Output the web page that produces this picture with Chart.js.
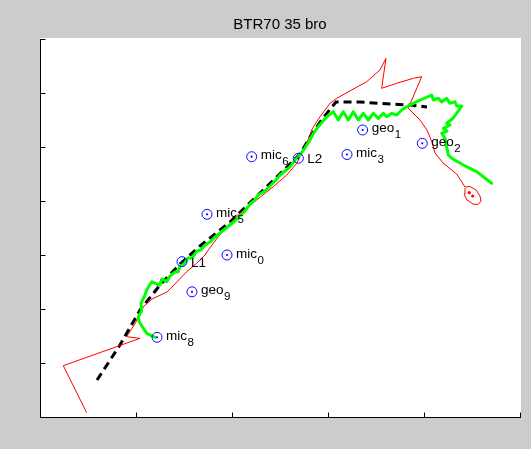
<!DOCTYPE html>
<html>
<head>
<meta charset="utf-8">
<script src="https://cdn.jsdelivr.net/npm/chart.js@4"></script>
<style>
html,body{margin:0;padding:0;background:#cccccc;}
canvas{display:block;}
</style>
</head>
<body>
<canvas id="c" width="531" height="449"></canvas>
<script>
// ---- data (axis units: x 0..5, y 0..7, no tick labels shown) ----
const titleText = 'BTR70 35 bro';
const xTickValues = [0, 1, 2, 3, 4, 5];
const yTickValues = [0, 1, 2, 3, 4, 5, 6, 7];

// sensor markers
const markerName = ['mic', 'geo', 'L1', 'mic', 'mic', 'mic', 'L2', 'mic', 'geo', 'geo'];
const markerSub  = ['8',   '9',   '',   '0',   '5',   '6',   '',   '3',   '1',   '2'];
const markerX = [1.219, 1.583, 1.479, 1.948, 1.740, 2.205, 2.691, 3.198, 3.361, 3.982];
const markerY = [1.476, 2.318, 2.876, 3.000, 3.754, 4.820, 4.791, 4.861, 5.315, 5.068];

// black dashed path
const dashX = [0.594, 0.833, 1.042, 1.250, 1.458, 1.667, 1.979, 2.292, 2.552, 2.708, 2.833, 2.948, 3.083, 3.333, 3.646, 3.854, 4.031];
const dashY = [0.685, 1.333, 1.981, 2.444, 2.833, 3.167, 3.611, 4.148, 4.593, 4.870, 5.241, 5.537, 5.833, 5.833, 5.796, 5.778, 5.741];

// red track
const redX = [0.486, 0.243, 1.042, 0.903, 1.000, 1.073, 1.167, 1.323, 1.375, 1.528, 1.632, 1.719, 1.753, 1.857, 1.945, 2.083, 2.257, 2.430, 2.570, 2.674, 2.726, 2.778, 2.830, 2.882, 2.917, 3.021, 3.091, 3.247, 3.403, 3.542, 3.604, 3.559, 3.716, 3.889, 3.976, 3.836, 3.958, 4.031, 4.083, 4.115, 4.198, 4.340, 4.427, 4.479, 4.542, 4.583, 4.594, 4.563, 4.510, 4.448, 4.417, 4.427];
const redY = [0.080, 0.950, 1.457, 1.487, 1.759, 2.037, 2.185, 2.315, 2.407, 2.691, 2.846, 3.000, 3.093, 3.339, 3.524, 3.772, 4.019, 4.265, 4.481, 4.698, 4.883, 5.069, 5.315, 5.469, 5.561, 5.809, 5.902, 6.056, 6.209, 6.426, 6.643, 6.087, 6.180, 6.272, 6.302, 5.717, 5.500, 5.315, 5.093, 4.889, 4.704, 4.500, 4.259, 4.269, 4.204, 4.093, 4.000, 3.935, 3.944, 4.019, 4.130, 4.241];
const redDotX = [4.472, 4.507];
const redDotY = [4.154, 4.093];

// green track
const greenX = [1.198, 1.111, 1.066, 1.034, 1.024, 1.059, 1.052, 1.094, 1.111, 1.164, 1.216, 1.250, 1.268, 1.320, 1.354, 1.406, 1.441, 1.458, 1.500, 1.542, 1.583, 1.635, 1.677, 1.719, 1.771, 1.823, 1.875, 1.927, 1.979, 2.031, 2.083, 2.135, 2.188, 2.240, 2.271, 2.344, 2.396, 2.448, 2.500, 2.552, 2.604, 2.656, 2.688, 2.729, 2.760, 2.813, 2.844, 2.896, 2.948, 2.986, 3.055, 3.107, 3.159, 3.211, 3.264, 3.316, 3.368, 3.420, 3.472, 3.524, 3.576, 3.611, 3.664, 3.716, 3.768, 3.820, 3.924, 4.080, 4.097, 4.149, 4.184, 4.236, 4.271, 4.323, 4.340, 4.393, 4.305, 4.236, 4.271, 4.201, 4.240, 4.184, 4.219, 4.236, 4.253, 4.289, 4.409, 4.549, 4.705];
const greenY = [1.476, 1.550, 1.672, 1.765, 1.857, 1.963, 2.106, 2.259, 2.352, 2.506, 2.463, 2.444, 2.556, 2.506, 2.611, 2.685, 2.691, 2.796, 2.833, 2.944, 2.944, 3.074, 3.093, 3.185, 3.241, 3.333, 3.407, 3.481, 3.556, 3.630, 3.722, 3.815, 3.944, 4.019, 4.111, 4.185, 4.278, 4.370, 4.481, 4.556, 4.630, 4.759, 4.815, 4.907, 4.981, 5.130, 5.241, 5.370, 5.481, 5.556, 5.654, 5.500, 5.654, 5.500, 5.654, 5.500, 5.624, 5.500, 5.624, 5.531, 5.624, 5.561, 5.624, 5.593, 5.685, 5.746, 5.839, 5.963, 5.870, 5.902, 5.833, 5.902, 5.809, 5.839, 5.759, 5.759, 5.537, 5.439, 5.407, 5.346, 5.296, 5.254, 5.161, 5.006, 4.852, 4.791, 4.667, 4.543, 4.328];

const pts = (xs, ys) => xs.map((x, i) => ({x: x, y: ys[i]}));

const deco = {
  id: 'deco',
  beforeDraw(chart) {
    const ctx = chart.ctx, a = chart.chartArea;
    ctx.save();
    ctx.fillStyle = '#cccccc';
    ctx.fillRect(0, 0, chart.width, chart.height);
    ctx.fillStyle = '#ffffff';
    ctx.fillRect(a.left, a.top - 1, a.right - a.left + 1, a.bottom - a.top + 1);
    ctx.restore();
  },
  afterDatasetsDraw(chart) {
    const ctx = chart.ctx, a = chart.chartArea;
    const sx = chart.scales.x, sy = chart.scales.y;
    ctx.save();
    // axes lines
    ctx.strokeStyle = '#000000';
    ctx.lineWidth = 1;
    ctx.beginPath();
    const L = Math.round(a.left) + 0.5, B = Math.round(a.bottom) + 0.5;
    ctx.moveTo(L, Math.round(a.top));
    ctx.lineTo(L, B);
    ctx.lineTo(Math.round(a.right) + 1, B);
    // inward ticks
    xTickValues.forEach(v => {
      const px = Math.round(sx.getPixelForValue(v)) + 0.5;
      ctx.moveTo(px, B);
      ctx.lineTo(px, B - 5);
    });
    yTickValues.forEach(v => {
      const py = Math.round(sy.getPixelForValue(v)) + 0.5;
      ctx.moveTo(L, py);
      ctx.lineTo(L + 5, py);
    });
    ctx.stroke();

    // marker labels
    ctx.fillStyle = '#000000';
    ctx.textAlign = 'left';
    ctx.textBaseline = 'alphabetic';
    markerName.forEach((name, i) => {
      const px = sx.getPixelForValue(markerX[i]);
      const py = sy.getPixelForValue(markerY[i]);
      const sub = markerSub[i];
      ctx.font = '13.5px "Liberation Sans", Arial, sans-serif';
      const tx = px + 9;
      if (sub) {
        ctx.fillText(name, tx, py + 2.5);
        const w = ctx.measureText(name).width;
        ctx.font = '11.5px "Liberation Sans", Arial, sans-serif';
        ctx.fillText(sub, tx + w + 0.5, py + 8.5);
      } else {
        ctx.fillText(name, tx, py + 5);
      }
    });

    // title
    ctx.font = '15px "Liberation Sans", Arial, sans-serif';
    ctx.textAlign = 'center';
    ctx.fillText(titleText, (a.left + a.right) / 2, 28.5);
    ctx.restore();
  }
};

new Chart(document.getElementById('c'), {
  type: 'scatter',
  data: {
    datasets: [
      { data: pts(markerX, markerY), pointStyle: 'circle', pointRadius: 5, pointBorderWidth: 1,
        pointBorderColor: '#0a0aff', pointBackgroundColor: 'rgba(0,0,0,0)', showLine: false, order: 0 },
      { data: pts(markerX, markerY), pointStyle: 'circle', pointRadius: 1.1, pointBorderWidth: 0,
        pointBackgroundColor: '#0a0aff', showLine: false, order: 0 },
      { data: pts(greenX, greenY), showLine: true, borderColor: '#00ff00', borderWidth: 3,
        pointRadius: 0, tension: 0, borderJoinStyle: 'round', borderCapStyle: 'round', order: 1 },
      { data: pts(redX, redY), showLine: true, borderColor: '#ff0000', borderWidth: 1,
        pointRadius: 0, tension: 0, order: 2 },
      { data: pts(redDotX, redDotY), showLine: false, pointRadius: 1.6, pointBorderWidth: 0,
        pointBackgroundColor: '#ff0000', order: 2 },
      { data: pts(dashX, dashY), showLine: true, borderColor: '#000000', borderWidth: 3,
        borderDash: [8, 5], pointRadius: 0, tension: 0, order: 3 }
    ]
  },
  options: {
    responsive: false,
    animation: false,
    devicePixelRatio: 1,
    events: [],
    layout: { padding: { left: 40, right: 11, top: 39, bottom: 32 } },
    plugins: { legend: { display: false }, tooltip: { enabled: false }, title: { display: false } },
    scales: {
      x: { type: 'linear', min: 0, max: 5, ticks: { display: false, stepSize: 1 },
           grid: { display: false }, border: { display: false },
           afterFit: s => { s.height = 0; } },
      y: { type: 'linear', min: 0, max: 7, ticks: { display: false, stepSize: 1 },
           grid: { display: false }, border: { display: false },
           afterFit: s => { s.width = 0; } }
    }
  },
  plugins: [deco]
});
</script>
</body>
</html>
